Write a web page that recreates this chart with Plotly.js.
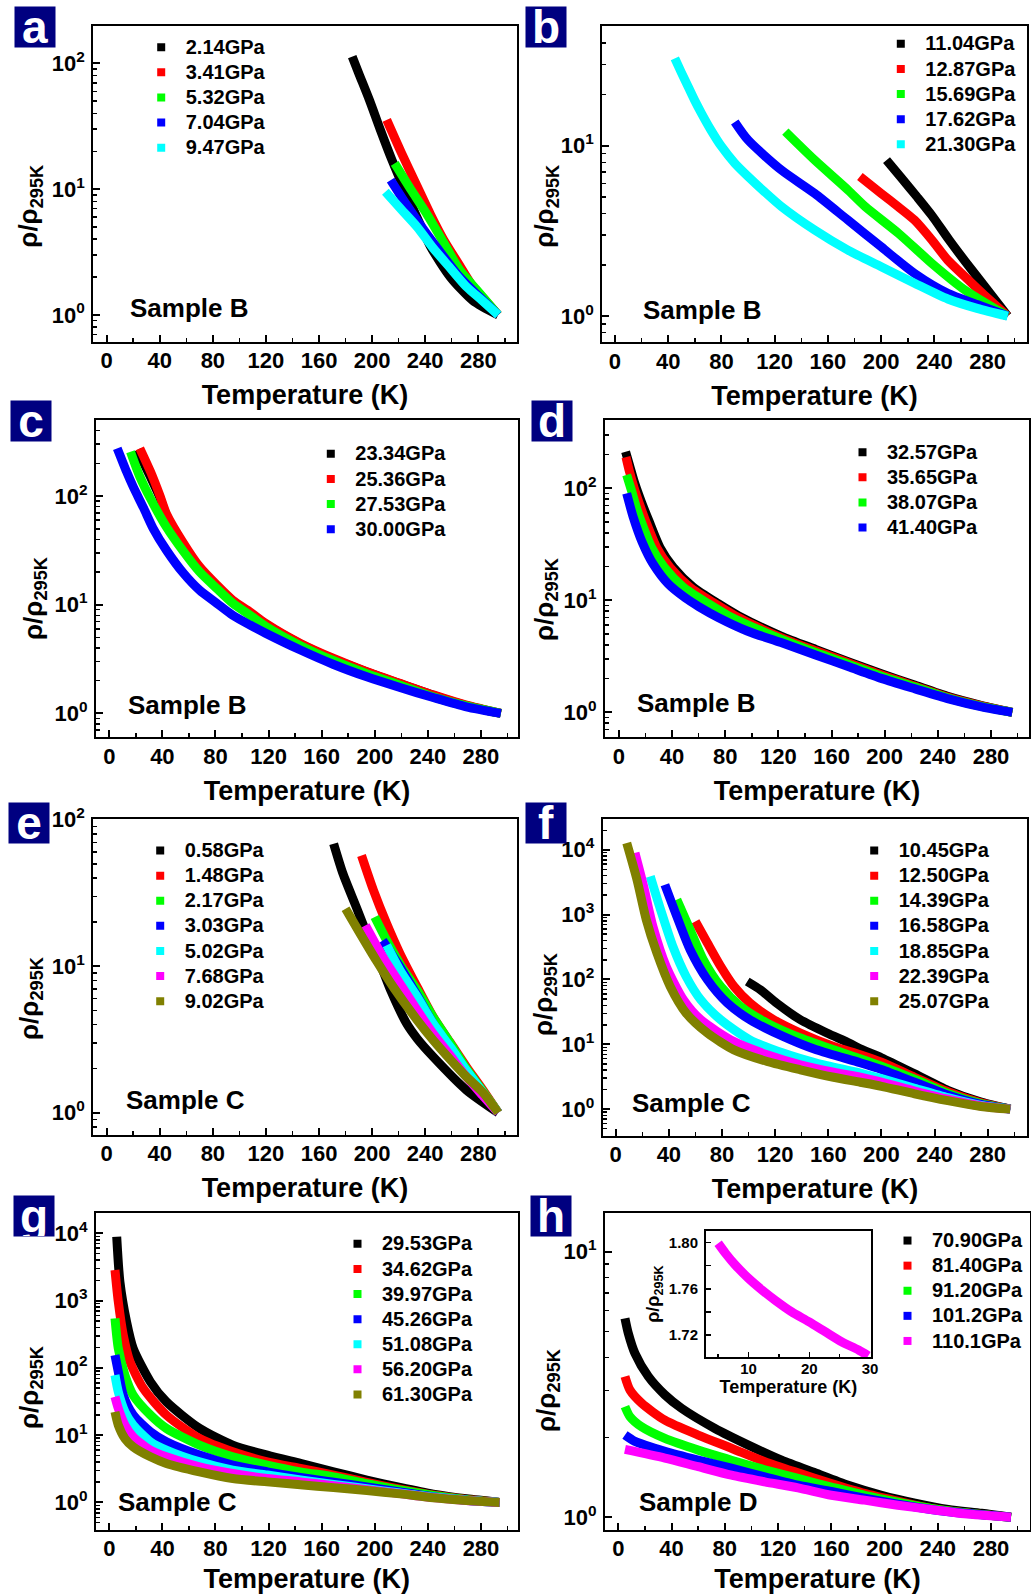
<!DOCTYPE html>
<html><head><meta charset="utf-8">
<script src="https://cdn.plot.ly/plotly-3.0.1.min.js"></script>
<style>html,body{margin:0;padding:0;background:#fff}</style>
</head><body>
<div id="chart" style="width:1031px;height:1594px"></div>
<script>
// ---------------- DATA ----------------
// Panel a (Sample B)
const aLabels = ['2.14GPa','3.41GPa','5.32GPa','7.04GPa','9.47GPa'];
const aT_214 = [185, 190, 198, 206, 215, 225, 235, 244, 259, 276, 295];
const aR_214 = [113, 83, 51, 30, 17, 9.6, 5.6, 3.5, 2.0, 1.3, 1.0];
const aT_341 = [211, 222, 234, 244, 254, 265, 276, 286, 295];
const aR_341 = [35.5, 19.5, 10.5, 6.3, 3.95, 2.57, 1.68, 1.28, 1.0];
const aT_532 = [217, 229, 241, 254, 266, 280, 295];
const aR_532 = [16, 10, 6.4, 3.75, 2.28, 1.53, 1.0];
const aT_704 = [214, 226, 239, 252, 266, 280, 295];
const aR_704 = [11.8, 7.5, 4.74, 3.1, 2.0, 1.42, 1.0];
const aT_947 = [210, 222, 234, 246, 258, 271, 283, 295];
const aR_947 = [9.55, 6.9, 5.0, 3.4, 2.42, 1.68, 1.3, 1.0];

// Panel b (Sample B)
const bLabels = ['11.04GPa','12.87GPa','15.69GPa','17.62GPa','21.30GPa'];
const bT_1104 = [204, 215, 227, 238, 251, 263, 279, 295];
const bR_1104 = [8.24, 6.5, 5.0, 3.9, 2.8, 2.1, 1.45, 1.0];
const bT_1287 = [184, 200, 213, 225, 238, 250, 263, 276, 295];
const bR_1287 = [6.6, 5.25, 4.37, 3.66, 2.8, 2.13, 1.7, 1.36, 1.0];
const bT_1569 = [128, 150, 175, 188, 213, 238, 263, 295];
const bR_1569 = [12.1, 8.24, 5.5, 4.39, 3.06, 2.04, 1.42, 1.0];
const bT_1762 = [90, 100, 125, 150, 175, 200, 225, 250, 272, 295];
const bR_1762 = [13.8, 10.8, 7.2, 5.25, 3.66, 2.55, 1.78, 1.36, 1.17, 1.0];
const bT_2130 = [45, 50, 55, 60, 65, 72, 80, 90, 100, 112, 125, 150, 175, 200, 225, 250, 272, 295];
const bR_2130 = [32.6, 26.8, 22.2, 18.4, 15.5, 12.4, 9.9, 7.9, 6.6, 5.4, 4.4, 3.2, 2.44, 1.95, 1.56, 1.26, 1.11, 1.0];

// Panel c (Sample B)
const cLabels = ['23.34GPa','25.36GPa','27.53GPa','30.00GPa'];
const cT_2334 = [21, 27, 31, 38, 43, 56, 68, 81, 93, 106, 118, 144, 169, 194, 219, 244, 269, 295];
const cR_2334 = [265, 190, 150, 98, 66, 35, 21.5, 14.8, 10.8, 8.4, 6.6, 4.35, 3.15, 2.4, 1.87, 1.47, 1.18, 1.0];
const cT_2536 = [23, 31, 38, 43, 56, 68, 81, 93, 106, 118, 144, 169, 194, 219, 244, 269, 295];
const cR_2536 = [275, 168, 102, 69, 36.7, 22.4, 15.2, 11.0, 8.6, 6.7, 4.4, 3.2, 2.42, 1.89, 1.48, 1.19, 1.0];
const cT_2753 = [16, 23, 31, 43, 56, 68, 81, 93, 106, 118, 144, 169, 194, 219, 244, 269, 295];
const cR_2753 = [256, 151, 95, 52, 30.8, 20.1, 14.1, 10.3, 8.0, 6.3, 4.2, 3.05, 2.32, 1.82, 1.42, 1.17, 1.0];
const cT_3000 = [6, 13, 18, 26, 33, 43, 56, 68, 81, 93, 106, 118, 144, 169, 194, 219, 244, 269, 295];
const cR_3000 = [275, 168, 122, 77, 50.5, 31.8, 19.4, 13.6, 10.3, 8.0, 6.5, 5.45, 3.83, 2.82, 2.17, 1.73, 1.40, 1.15, 1.0];

// Panel d (Sample B)
const dLabels = ['32.57GPa','35.65GPa','38.07GPa','41.40GPa'];
const dT_3257 = [5, 8, 12, 17, 22.6, 30.9, 40.9, 55.9, 74.7, 89.8, 122, 148, 173, 198, 223, 248, 273, 296];
const dR_3257 = [212, 160, 110, 75, 51, 29.6, 19.7, 13.1, 9.34, 7.3, 4.8, 3.65, 2.82, 2.2, 1.74, 1.38, 1.15, 1.0];
const dT_3565 = [5.3, 8, 11.5, 15.5, 20.1, 28.4, 38.4, 53.4, 72.3, 87.3, 122, 148, 173, 198, 223, 248, 273, 296];
const dR_3565 = [190, 140, 100, 72, 51, 29.6, 19.7, 13.1, 9.34, 7.3, 4.65, 3.55, 2.76, 2.15, 1.71, 1.36, 1.14, 1.0];
const dT_3807 = [5.8, 9.5, 13, 16.6, 24.6, 34.1, 48.4, 67.2, 82.3, 122, 148, 173, 198, 223, 248, 273, 296];
const dR_3807 = [132, 95, 68, 51, 29.6, 19.7, 13.1, 9.34, 7.3, 4.5, 3.42, 2.68, 2.09, 1.68, 1.34, 1.13, 1.0];
const dT_4140 = [5.8, 10.8, 17.5, 25.8, 37.1, 50, 60, 75, 97, 122, 148, 173, 198, 223, 248, 273, 296];
const dR_4140 = [90, 55, 33, 21, 14, 10.5, 8.8, 7.0, 5.3, 4.2, 3.25, 2.55, 2.0, 1.62, 1.32, 1.12, 1.0];

// Panel e (Sample C)
const eLabels = ['0.58GPa','1.48GPa','2.17GPa','3.03GPa','5.02GPa','7.68GPa','9.02GPa'];
const eT_058 = [171, 178, 188, 198, 208, 214, 226, 234, 246, 271, 295];
const eR_058 = [68.6, 42.9, 25.4, 15.0, 9.4, 6.86, 4.06, 3.2, 2.41, 1.43, 1.0];
const eT_148 = [192, 201, 211, 221, 234, 246, 259, 271, 283, 295];
const eR_148 = [57, 33, 19.5, 12.2, 7.2, 4.51, 3.0, 2.06, 1.45, 1.0];
const eT_217 = [202, 211, 222, 234, 246, 259, 271, 283, 295];
const eR_217 = [21.7, 15, 10, 6.86, 4.5, 2.97, 2.0, 1.42, 1.0];
const eT_303 = [208, 221, 234, 246, 259, 271, 283, 295];
const eR_303 = [15, 9.9, 6.3, 4.06, 2.75, 1.85, 1.36, 1.0];
const eT_502 = [211, 221, 234, 246, 259, 271, 283, 295];
const eR_502 = [13.9, 9.4, 6.18, 4.06, 2.8, 1.95, 1.4, 1.0];
const eT_768 = [195, 208, 221, 234, 246, 259, 271, 283, 295];
const eR_768 = [19.0, 11.6, 7.6, 5.0, 3.47, 2.45, 1.76, 1.32, 1.0];
const eT_902 = [180, 191, 203, 216, 234, 246, 259, 271, 284, 295];
const eR_902 = [24.7, 16.7, 11.0, 7.2, 4.28, 3.13, 2.3, 1.76, 1.36, 1.0];

// Panel f (Sample C)
const fLabels = ['10.45GPa','12.50GPa','14.39GPa','16.58GPa','18.85GPa','22.39GPa','25.07GPa'];
const fT_1045 = [99, 109, 121, 139, 159, 176, 184, 200, 225, 250, 275, 297];
const fR_1045 = [93, 69, 43.3, 23.9, 14.9, 10.4, 8.5, 6.2, 3.5, 1.95, 1.28, 1.0];
const fT_1250 = [60, 69, 79, 89, 101, 119, 139, 164, 184, 200, 225, 250, 275, 297];
const fR_1250 = [785, 365, 159, 78, 43.3, 23.9, 14.9, 9.25, 6.9, 5.3, 3.1, 1.85, 1.25, 1.0];
const fT_1439 = [46, 56, 66, 79, 94, 114, 139, 164, 184, 200, 225, 250, 275, 297];
const fR_1439 = [1700, 585, 201, 78, 38.3, 21.2, 12.5, 8.2, 6.0, 4.6, 2.9, 1.75, 1.22, 1.0];
const fT_1658 = [37, 46, 56, 69, 84, 101, 126, 151, 184, 200, 225, 250, 275, 297];
const fR_1658 = [2890, 938, 287, 99, 43.3, 23.9, 13.2, 8.2, 5.2, 4.1, 2.6, 1.65, 1.18, 1.0];
const fT_1885 = [26, 33, 43, 53, 64, 79, 101, 126, 151, 184, 200, 225, 250, 275, 297];
const fR_1885 = [3890, 1340, 323, 111, 48.6, 23.9, 11.7, 7.31, 5.13, 3.6, 2.95, 2.1, 1.5, 1.14, 1.0];
const fT_2239 = [14.5, 21, 28, 38, 51, 64, 89, 114, 139, 164, 184, 200, 225, 250, 275, 297];
const fR_2239 = [8930, 2720, 658, 159, 48.6, 23.9, 11.0, 6.9, 4.83, 3.7, 3.1, 2.6, 1.9, 1.42, 1.12, 1.0];
const fT_2507 = [8.3, 16, 23, 31, 41, 53, 69, 89, 114, 139, 164, 184, 200, 225, 250, 275, 297];
const fR_2507 = [12700, 3460, 834, 255, 78, 30.3, 14.9, 8.2, 5.43, 4.04, 3.1, 2.6, 2.25, 1.72, 1.35, 1.1, 1.0];

// Panel g (Sample C)
const gLabels = ['29.53GPa','34.62GPa','39.97GPa','45.26GPa','51.08GPa','56.20GPa','61.30GPa'];
const gT_2953 = [5.6, 8, 13, 18, 31, 43, 68, 93, 119, 144, 169, 194, 219, 244, 269, 294];
const gR_2953 = [8900, 1900, 485, 195, 62, 31.3, 12.6, 7.1, 5.05, 3.8, 2.85, 2.15, 1.67, 1.33, 1.13, 1.0];
const gT_3462 = [4.3, 6.8, 10.5, 15.6, 25.6, 43, 68, 93, 119, 144, 169, 194, 219, 244, 269, 294];
const gR_3462 = [2850, 960, 310, 123, 49.6, 19.9, 8.9, 5.65, 4.0, 3.2, 2.55, 1.98, 1.58, 1.29, 1.11, 1.0];
const gT_3997 = [4.3, 6.8, 11.8, 18, 31, 43, 68, 93, 119, 144, 169, 194, 219, 244, 269, 294];
const gR_3997 = [545, 195, 78, 39.4, 19.9, 12.6, 7.1, 4.77, 3.59, 2.85, 2.4, 1.9, 1.53, 1.27, 1.1, 1.0];
const gT_4526 = [4.3, 6.8, 10.5, 18, 31, 43, 68, 93, 119, 144, 169, 194, 219, 244, 269, 294];
const gR_4526 = [155, 87.5, 39.4, 19.9, 11.2, 7.96, 5.05, 3.59, 2.85, 2.35, 2.0, 1.7, 1.43, 1.22, 1.08, 1.0];
const gT_5108 = [4.3, 6.8, 11.8, 18, 31, 43, 68, 93, 119, 144, 169, 194, 219, 244, 269, 294];
const gR_5108 = [78, 44, 22.2, 14.1, 7.96, 6.0, 4.0, 3.02, 2.55, 2.15, 1.85, 1.6, 1.38, 1.2, 1.08, 1.0];
const gT_5620 = [4.3, 6.8, 11.8, 18, 31, 43, 68, 93, 119, 144, 169, 194, 219, 244, 269, 294];
const gR_5620 = [37.2, 25, 14.1, 9.46, 6.0, 4.77, 3.38, 2.7, 2.27, 2.02, 1.77, 1.55, 1.35, 1.18, 1.07, 1.0];
const gT_6130 = [4.3, 6.8, 11.8, 18, 31, 43, 68, 93, 119, 144, 169, 194, 219, 244, 269, 294];
const gR_6130 = [22.2, 14.1, 8.9, 6.7, 4.77, 3.8, 2.85, 2.27, 2.02, 1.83, 1.66, 1.5, 1.34, 1.17, 1.07, 1.0];

// Panel h (Sample D)
const hLabels = ['70.90GPa','81.40GPa','91.20GPa','101.2GPa','110.1GPa'];
const hT_7090 = [5, 7.5, 12.5, 22.5, 35, 47.6, 72.6, 97.7, 122.7, 147.8, 172.8, 197.8, 222.9, 247.9, 273, 295];
const hR_7090 = [5.61, 4.93, 4.14, 3.39, 2.89, 2.57, 2.16, 1.87, 1.64, 1.47, 1.32, 1.21, 1.13, 1.07, 1.035, 1.0];
const hT_8140 = [5, 8.8, 17.5, 35, 60, 85, 110, 135, 160, 185, 210, 235, 260, 295];
const hR_8140 = [3.39, 3.01, 2.69, 2.32, 2.04, 1.82, 1.62, 1.47, 1.34, 1.23, 1.15, 1.08, 1.04, 1.0];
const hT_9120 = [5, 8.8, 17.5, 35, 60, 85, 110, 135, 160, 185, 210, 235, 260, 295];
const hR_9120 = [2.61, 2.39, 2.19, 1.98, 1.79, 1.64, 1.51, 1.40, 1.30, 1.21, 1.14, 1.08, 1.04, 1.0];
const hT_10120 = [5, 12.5, 35, 60, 85, 110, 135, 160, 185, 210, 235, 260, 295];
const hR_10120 = [2.04, 1.93, 1.77, 1.64, 1.53, 1.42, 1.32, 1.25, 1.18, 1.12, 1.07, 1.035, 1.0];
const hT_11010 = [5, 35, 60, 85, 110, 135, 160, 185, 210, 235, 260, 295];
const hR_11010 = [1.80, 1.67, 1.55, 1.44, 1.36, 1.29, 1.21, 1.16, 1.11, 1.07, 1.03, 1.0];
// Inset of h (110.1GPa, low T)
const insetT = [5, 6.2, 7.8, 10, 12.2, 14.4, 17.1, 19.9, 22.6, 25.3, 28.1, 29.7];
const insetR = [1.7994, 1.7908, 1.7807, 1.769, 1.759, 1.750, 1.740, 1.7316, 1.7229, 1.7142, 1.707, 1.702];

// Tick labels and titles
const xTickVals = [0, 40, 80, 120, 160, 200, 240, 280];
const xTickText = ['0', '40', '80', '120', '160', '200', '240', '280'];
const logTickVals = [1, 10, 100, 1000, 10000];
const logTickText = ['10<sup>0</sup>', '10<sup>1</sup>', '10<sup>2</sup>', '10<sup>3</sup>', '10<sup>4</sup>'];
const insetXTickVals = [10, 20, 30];
const insetXTickText = ['10', '20', '30'];
const insetYTickVals = [1.72, 1.76, 1.80];
const insetYTickText = ['1.72', '1.76', '1.80'];
const xTitle = 'Temperature (K)';
const yTitle = 'ρ/ρ<sub>295K</sub>';

// ---------------- STYLE / LAYOUT ----------------
const W = 1031, H = 1594;
const FONT = 'Liberation Sans, Arial, Helvetica, sans-serif';
const C7 = ['#000000', '#ff0000', '#00ff00', '#0000ff', '#00ffff', '#ff00ff', '#808000'];
const C4 = ['#000000', '#ff0000', '#00ff00', '#0000ff'];
const C5h = ['#000000', '#ff0000', '#00ff00', '#0000ff', '#ff00ff'];
const sized = (arr, px) => arr.map(t => '<span style="font-size:' + px + 'px">' + t + '</span>');

const panels = [
  {letter:'a', box:[93.3,26,516.5,342], xr:[-10.1,308.8], yr:[-0.215,2.297], letterAt:[14,6], yTitleAt:[30,206.7],
   sample:'Sample B', sampleAt:[128,308], legAt:[158.7,46.7], labels:aLabels, colors:C7,
   series:[[aT_214,aR_214],[aT_341,aR_341],[aT_532,aR_532],[aT_704,aR_704],[aT_947,aR_947]]},
  {letter:'b', box:[602.3,26,1026.7,342.3], xr:[-9.5,309.3], yr:[-0.154,1.703], letterAt:[525,6], yTitleAt:[546,206.7],
   sample:'Sample B', sampleAt:[641,310], legAt:[898.3,43.3], labels:bLabels, colors:C7,
   series:[[bT_1104,bR_1104],[bT_1287,bR_1287],[bT_1569,bR_1569],[bT_1762,bR_1762],[bT_2130,bR_2130]]},
  {letter:'c', box:[96,420,518,737.3], xr:[-10,307.9], yr:[-0.22,2.70], letterAt:[10,400], yTitleAt:[34,599],
   sample:'Sample B', sampleAt:[126,705], legAt:[328.3,453.3], labels:cLabels, colors:C4,
   series:[[cT_2334,cR_2334],[cT_2536,cR_2536],[cT_2753,cR_2753],[cT_3000,cR_3000]]},
  {letter:'d', box:[605,420,1029,737.3], xr:[-10.5,308.6], yr:[-0.223,2.61], letterAt:[531,400], yTitleAt:[546,600],
   sample:'Sample B', sampleAt:[634.5,703.3], legAt:[860,451.7], labels:dLabels, colors:C4,
   series:[[dT_3257,dR_3257],[dT_3565,dR_3565],[dT_3807,dR_3807],[dT_4140,dR_4140]]},
  {letter:'e', box:[93.3,819.3,516.5,1135], xr:[-10.1,308.8], yr:[-0.152,2.003], letterAt:[8.3,801.7], yTitleAt:[30,999],
   sample:'Sample C', sampleAt:[124,1100], legAt:[157.7,850], labels:eLabels, colors:C7,
   series:[[eT_058,eR_058],[eT_148,eR_148],[eT_217,eR_217],[eT_303,eR_303],[eT_502,eR_502],[eT_768,eR_768],[eT_902,eR_902]]},
  {letter:'f', box:[602.7,819.3,1027.3,1135.7], xr:[-9.8,309.8], yr:[-0.41,4.47], letterAt:[525,801.7], yTitleAt:[545,995],
   sample:'Sample C', sampleAt:[629.5,1103.3], legAt:[871.7,850], labels:fLabels, colors:C7,
   series:[[fT_1045,fR_1045],[fT_1250,fR_1250],[fT_1439,fR_1439],[fT_1658,fR_1658],[fT_1885,fR_1885],[fT_2239,fR_2239],[fT_2507,fR_2507]]},
  {letter:'g', box:[96,1212.7,517.5,1530], xr:[-10,307.5], yr:[-0.41,4.306], letterAt:[13.3,1195], yTitleAt:[30,1388],
   sample:'Sample C', sampleAt:[116,1501.7], legAt:[355,1243.3], labels:gLabels, colors:C7,
   series:[[gT_2953,gR_2953],[gT_3462,gR_3462],[gT_3997,gR_3997],[gT_4526,gR_4526],[gT_5108,gR_5108],[gT_5620,gR_5620],[gT_6130,gR_6130]]},
  {letter:'h', box:[605,1212.7,1030,1530], xr:[-10,309.3], yr:[-0.048,1.147], letterAt:[530,1195], yTitleAt:[547,1391],
   sample:'Sample D', sampleAt:[637,1501.7], legAt:[905,1240], labels:hLabels, colors:C5h,
   series:[[hT_7090,hR_7090],[hT_8140,hR_8140],[hT_9120,hR_9120],[hT_10120,hR_10120],[hT_11010,hR_11010]]}
];

const LEG_DX = 22, LEG_DY = 17;
const BAND = 9;

function logMinor(lo, hi) {
  const v = [];
  for (let e = Math.floor(lo) - 1; e <= Math.ceil(hi); e++) {
    for (let m = 2; m <= 9; m++) {
      const t = m * Math.pow(10, e);
      const l = Math.log10(t);
      if (l >= lo && l <= hi) v.push(t);
    }
  }
  return v;
}

const data = [];
const layout = {
  width: W, height: H,
  margin: {l:0, r:0, t:0, b:0},
  paper_bgcolor: '#fff', plot_bgcolor: '#fff',
  font: {family: FONT, color: '#000'},
  showlegend: true,
  annotations: []
};

panels.forEach((p, i) => {
  const n = i + 1;
  const xid = n === 1 ? 'x' : 'x' + n;
  const yid = n === 1 ? 'y' : 'y' + n;
  const xkey = n === 1 ? 'xaxis' : 'xaxis' + n;
  const ykey = n === 1 ? 'yaxis' : 'yaxis' + n;
  const lkey = n === 1 ? 'legend' : 'legend' + n;

  layout[xkey] = {
    domain: [p.box[0] / W, p.box[2] / W], anchor: yid,
    range: p.xr, showgrid: false, zeroline: false,
    showline: true, mirror: true, linewidth: 2, linecolor: '#000',
    ticks: 'inside', ticklen: 7, tickwidth: 2, tickcolor: '#000',
    tickmode: 'array', tickvals: xTickVals, ticktext: sized(xTickText, 22),
    minor: {ticks: 'inside', ticklen: 4, tickwidth: 1.5, tickcolor: '#000', tickmode: 'linear', tick0: 0, dtick: 20},
    tickfont: {family: FONT, size: 22, weight: 'bold', color: '#000'},
    ticklabelstandoff: -2,
    title: {text: xTitle, font: {family: FONT, size: 27, weight: 'bold', color: '#000'}, standoff: 13}
  };
  layout[ykey] = {
    domain: [1 - p.box[3] / H, 1 - p.box[1] / H], anchor: xid,
    type: 'log', range: p.yr, showgrid: false, zeroline: false,
    showline: true, mirror: true, linewidth: 2, linecolor: '#000',
    ticks: 'inside', ticklen: 7, tickwidth: 2, tickcolor: '#000',
    tickmode: 'array', tickvals: logTickVals, ticktext: logTickText,
    minor: {ticks: 'inside', ticklen: 4, tickwidth: 1.5, tickcolor: '#000', tickmode: 'array', tickvals: logMinor(p.yr[0], p.yr[1])},
    tickfont: {family: FONT, size: 22, weight: 'bold', color: '#000'},
    ticklabelstandoff: 2
  };
  layout[lkey] = {
    x: (p.legAt[0] - LEG_DX) / W, y: 1 - (p.legAt[1] - LEG_DY) / H,
    xanchor: 'left', yanchor: 'top',
    bgcolor: 'rgba(0,0,0,0)', borderwidth: 0,
    font: {family: FONT, size: 17, weight: 'bold', color: '#000'},
    itemwidth: 39, tracegroupgap: 0
  };

  p.series.forEach((s, k) => {
    data.push({
      type: 'scatter', mode: 'lines', x: s[0], y: s[1], xaxis: xid, yaxis: yid,
      line: {color: p.colors[k], width: BAND, shape: 'spline', smoothing: 0.7},
      showlegend: false, hoverinfo: 'skip'
    });
  });
  p.labels.forEach((lab, k) => {
    data.push({
      type: 'scatter', mode: 'markers', x: [null], y: [null], xaxis: xid, yaxis: yid,
      marker: {symbol: 'square', size: 8, color: p.colors[k]},
      name: '<span style="font-size:20px">' + lab + '</span>',
      legend: lkey, showlegend: true, hoverinfo: 'skip'
    });
  });

  // panel letter
  layout.annotations.push({
    xref: 'paper', yref: 'paper', x: p.letterAt[0] / W, y: 1 - p.letterAt[1] / H,
    xanchor: 'left', yanchor: 'top', showarrow: false, text: p.letter,
    bgcolor: '#000080', width: 40, height: 40, borderpad: 0, align: 'center', valign: 'middle',
    font: {family: FONT, size: 46, weight: 'bold', color: '#fff'}
  });
  // sample label
  layout.annotations.push({
    xref: 'paper', yref: 'paper', x: p.sampleAt[0] / W, y: 1 - p.sampleAt[1] / H,
    xanchor: 'left', yanchor: 'middle', showarrow: false, text: p.sample,
    font: {family: FONT, size: 26, weight: 'bold', color: '#000'}
  });
  // y-axis title (placed like the original: a little below the axis centre)
  layout.annotations.push({
    xref: 'paper', yref: 'paper', x: p.yTitleAt[0] / W, y: 1 - p.yTitleAt[1] / H,
    xanchor: 'center', yanchor: 'middle', showarrow: false, text: yTitle, textangle: -90,
    font: {family: FONT, size: 26, weight: 'bold', color: '#000'}
  });
});

// Inset in panel h
layout.xaxis9 = {
  domain: [706 / W, 870.7 / W], anchor: 'y9', range: [3, 30.1],
  showgrid: false, zeroline: false, showline: true, mirror: true, linewidth: 2, linecolor: '#000',
  ticks: 'inside', ticklen: 5, tickwidth: 1.5, tickcolor: '#000',
  tickmode: 'array', tickvals: insetXTickVals, ticktext: sized(insetXTickText, 15),
  minor: {ticks: 'inside', ticklen: 3, tickwidth: 1.5, tickcolor: '#000', tickmode: 'linear', tick0: 0, dtick: 5},
  tickfont: {family: FONT, size: 15, weight: 'bold', color: '#000'}, ticklabelstandoff: -3,
  title: {text: xTitle, font: {family: FONT, size: 18, weight: 'bold', color: '#000'}, standoff: 3}
};
layout.yaxis9 = {
  domain: [1 - 1357.3 / H, 1 - 1231 / H], anchor: 'x9', range: [1.7007, 1.81],
  showgrid: false, zeroline: false, showline: true, mirror: true, linewidth: 2, linecolor: '#000',
  ticks: 'inside', ticklen: 5, tickwidth: 1.5, tickcolor: '#000',
  tickmode: 'array', tickvals: insetYTickVals, ticktext: sized(insetYTickText, 15),
  minor: {ticks: 'inside', ticklen: 5, tickwidth: 1.5, tickcolor: '#000', tickmode: 'linear', tick0: 1.72, dtick: 0.02},
  tickfont: {family: FONT, size: 15, weight: 'bold', color: '#000'}, ticklabelstandoff: 3,
  title: {text: yTitle, font: {family: FONT, size: 18, weight: 'bold', color: '#000'}, standoff: 4}
};
data.push({
  type: 'scatter', mode: 'lines', x: insetT, y: insetR, xaxis: 'x9', yaxis: 'y9',
  line: {color: '#ff00ff', width: BAND, shape: 'spline', smoothing: 0.7}, showlegend: false, hoverinfo: 'skip'
});

Plotly.newPlot('chart', data, layout, {staticPlot: true, displayModeBar: false});
</script>
</body></html>
